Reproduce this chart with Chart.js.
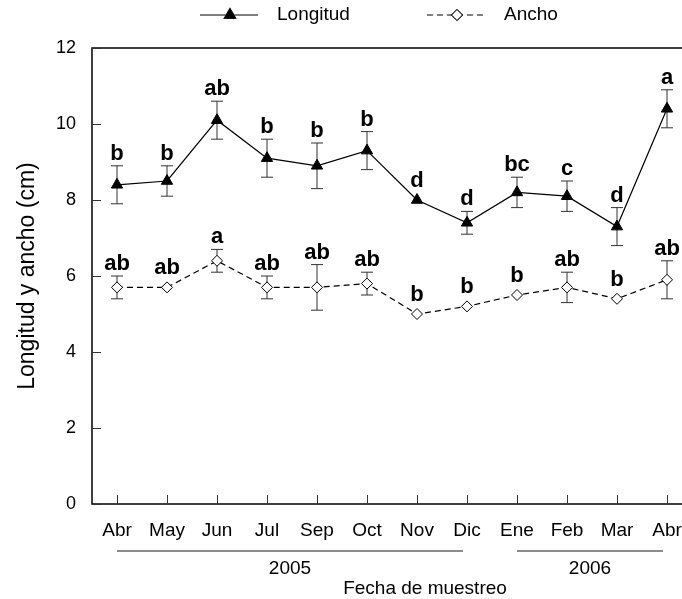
<!DOCTYPE html>
<html>
<head>
<meta charset="utf-8">
<script src="https://cdn.jsdelivr.net/npm/chart.js@4"></script>
<style>
  html, body { margin: 0; padding: 0; background: #fff; overflow: hidden; }
  #wrap { width: 700px; height: 599px; }
</style>
</head>
<body>
<div id="wrap"><canvas id="chart" width="700" height="599"></canvas></div>
<script>
const months = ["Abr", "May", "Jun", "Jul", "Sep", "Oct", "Nov", "Dic", "Ene", "Feb", "Mar", "Abr"];
const longitud = [8.4, 8.5, 10.1, 9.1, 8.9, 9.3, 8.0, 7.4, 8.2, 8.1, 7.3, 10.4];
const longitudErr = [0.5, 0.4, 0.5, 0.5, 0.6, 0.5, 0, 0.3, 0.4, 0.4, 0.5, 0.5];
const longitudLetters = ["b", "b", "ab", "b", "b", "b", "d", "d", "bc", "c", "d", "a"];
const ancho = [5.7, 5.7, 6.4, 5.7, 5.7, 5.8, 5.0, 5.2, 5.5, 5.7, 5.4, 5.9];
const anchoErr = [0.3, 0, 0.3, 0.3, 0.6, 0.3, 0, 0, 0, 0.4, 0, 0.5];
const anchoLetters = ["ab", "ab", "a", "ab", "ab", "ab", "b", "b", "b", "ab", "b", "ab"];
const years = [
  { label: "2005", from: 0, to: 7 },
  { label: "2006", from: 8, to: 11 },
];

const FONT = "'Liberation Sans', Arial, sans-serif";
Chart.defaults.font.family = FONT;
Chart.defaults.color = "#000";

const extras = {
  id: "extras",
  beforeDatasetsDraw(chart) {
    const { ctx } = chart;
    const y = chart.scales.y;
    ctx.save();
    ctx.strokeStyle = "#333";
    ctx.lineWidth = 1;
    chart.data.datasets.forEach((ds, di) => {
      const meta = chart.getDatasetMeta(di);
      meta.data.forEach((pt, i) => {
        const e = ds.err[i];
        if (!e) return;
        const top = y.getPixelForValue(ds.data[i] + e);
        const bot = y.getPixelForValue(ds.data[i] - e);
        ctx.beginPath();
        ctx.moveTo(pt.x, top);
        ctx.lineTo(pt.x, bot);
        ctx.moveTo(pt.x - 6, top);
        ctx.lineTo(pt.x + 6, top);
        ctx.moveTo(pt.x - 6, bot);
        ctx.lineTo(pt.x + 6, bot);
        ctx.stroke();
      });
    });
    ctx.restore();
  },
  afterDatasetsDraw(chart) {
    const { ctx } = chart;
    const y = chart.scales.y;
    ctx.save();
    ctx.fillStyle = "#000";
    ctx.font = "bold 22px " + FONT;
    ctx.textAlign = "center";
    ctx.textBaseline = "alphabetic";
    chart.data.datasets.forEach((ds, di) => {
      const meta = chart.getDatasetMeta(di);
      meta.data.forEach((pt, i) => {
        const e = ds.err[i];
        const base = e ? y.getPixelForValue(ds.data[i] + e) - 6 : pt.y - 13;
        ctx.fillText(ds.letters[i], pt.x, base);
      });
    });
    ctx.restore();
  },
  afterDraw(chart) {
    const { ctx, chartArea: a } = chart;
    const x = chart.scales.x;
    const y = chart.scales.y;
    ctx.save();
    // frame
    ctx.strokeStyle = "#000";
    ctx.lineWidth = 1.5;
    ctx.strokeRect(a.left, a.top, a.right - a.left, a.bottom - a.top);
    // inward ticks
    ctx.lineWidth = 1;
    ctx.strokeStyle = "#333";
    ctx.beginPath();
    y.ticks.forEach((t) => {
      const py = Math.round(y.getPixelForValue(t.value)) + 0.5;
      ctx.moveTo(a.left, py);
      ctx.lineTo(a.left + 9, py);
    });
    months.forEach((m, i) => {
      const px = Math.round(x.getPixelForValue(i)) + 0.5;
      ctx.moveTo(px, a.bottom);
      ctx.lineTo(px, a.bottom - 9);
    });
    ctx.stroke();
    // year groups
    ctx.strokeStyle = "#666";
    ctx.lineWidth = 1.5;
    ctx.fillStyle = "#000";
    ctx.font = "19px " + FONT;
    ctx.textAlign = "center";
    ctx.textBaseline = "middle";
    years.forEach((g) => {
      const x0 = x.getPixelForValue(g.from);
      const x1 = x.getPixelForValue(g.to) - 4;
      ctx.beginPath();
      ctx.moveTo(x0, 551);
      ctx.lineTo(x1, 551);
      ctx.stroke();
      ctx.fillText(g.label, (x0 + x1) / 2, 569);
    });
    ctx.fillText("Fecha de muestreo", 425, 589);
    // legend
    const drawEntry = (ds, lx, label) => {
      ctx.save();
      ctx.strokeStyle = ds.borderColor;
      ctx.lineWidth = ds.borderWidth;
      ctx.setLineDash(ds.borderDash || []);
      ctx.beginPath();
      ctx.moveTo(lx, 15);
      ctx.lineTo(lx + 58, 15);
      ctx.stroke();
      ctx.restore();
      Chart.helpers.drawPoint(ctx, {
        pointStyle: ds.pointStyle,
        radius: ds.pointRadius,
        borderWidth: 1,
        rotation: 0,
      }, lx + 30, 15);
      ctx.fillStyle = ds.pointBackgroundColor;
      ctx.strokeStyle = ds.pointBorderColor;
      ctx.lineWidth = 1;
      ctx.fill();
      ctx.stroke();
      ctx.fillStyle = "#000";
      ctx.textAlign = "left";
      ctx.fillText(label, lx + 77, 15);
    };
    drawEntry(chart.data.datasets[0], 200, "Longitud");
    drawEntry(chart.data.datasets[1], 427, "Ancho");
    ctx.restore();
  },
};

new Chart(document.getElementById("chart"), {
  type: "line",
  data: {
    labels: months,
    datasets: [
      {
        label: "Longitud",
        data: longitud,
        err: longitudErr,
        letters: longitudLetters,
        borderColor: "#000",
        borderWidth: 1.2,
        pointStyle: "triangle",
        pointRadius: 6.5,
        pointBackgroundColor: "#000",
        pointBorderColor: "#000",
        pointBorderWidth: 1,
        tension: 0,
      },
      {
        label: "Ancho",
        data: ancho,
        err: anchoErr,
        letters: anchoLetters,
        borderColor: "#000",
        borderWidth: 1.2,
        borderDash: [6, 4],
        pointStyle: "rectRot",
        pointRadius: 5.5,
        pointBackgroundColor: "#fff",
        pointBorderColor: "#000",
        pointBorderWidth: 1,
        tension: 0,
      },
    ],
  },
  options: {
    responsive: false,
    animation: false,
    layout: { padding: { top: 48, right: 8, bottom: 0, left: 0 } },
    plugins: {
      legend: { display: false },
      tooltip: { enabled: false },
    },
    scales: {
      x: {
        offset: true,
        grid: { display: false, drawTicks: false },
        border: { display: false },
        ticks: { font: { size: 19 }, padding: 15, maxRotation: 0, autoSkip: false },
        afterFit: (s) => { s.height = 95; },
      },
      y: {
        min: 0,
        max: 12,
        grid: { display: false, drawTicks: false },
        border: { display: false },
        ticks: { stepSize: 2, font: { size: 18 }, padding: 16 },
        title: {
          display: true,
          text: "Longitud y ancho (cm)",
          font: { size: 23 },
          padding: { top: 14 },
        },
        afterFit: (s) => { s.width = 92; },
      },
    },
  },
  plugins: [extras],
});
</script>
</body>
</html>
